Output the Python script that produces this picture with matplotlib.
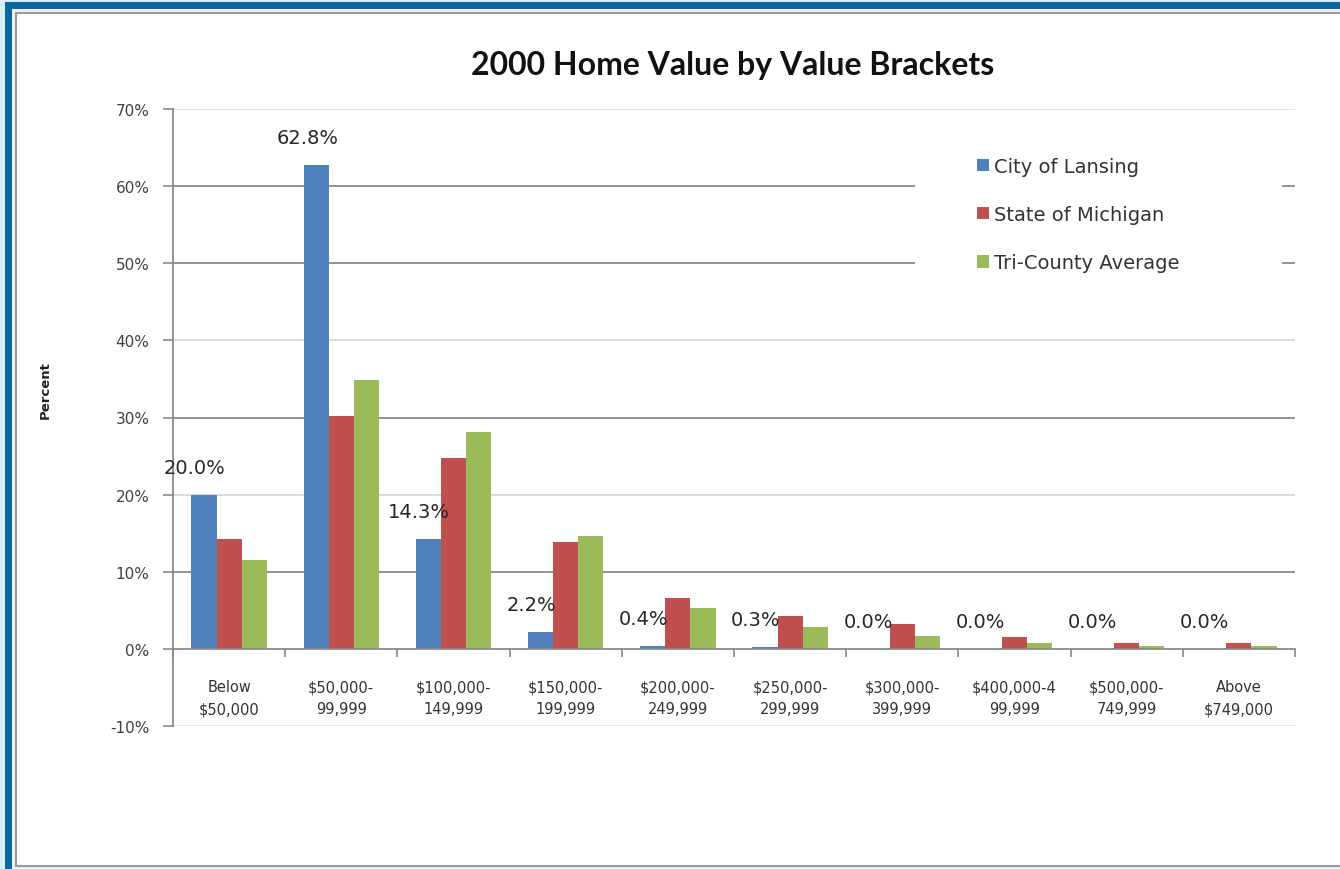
import matplotlib
matplotlib.use("Agg")
import matplotlib.pyplot as plt
from matplotlib.patches import Rectangle
import numpy as np

categories = ["Below\n\\$50,000", "\\$50,000-\n99,999", "\\$100,000-\n149,999",
              "\\$150,000-\n199,999", "\\$200,000-\n249,999", "\\$250,000-\n299,999",
              "\\$300,000-\n399,999", "\\$400,000-4\n99,999", "\\$500,000-\n749,999",
              "Above\n\\$749,000"]
series_names = ["City of Lansing", "State of Michigan", "Tri-County Average"]
lansing = [20.0, 62.8, 14.3, 2.2, 0.4, 0.3, 0.0, 0.0, 0.0, 0.0]
michigan = [14.3, 30.2, 24.7, 13.9, 6.6, 4.2, 3.2, 1.5, 0.8, 0.7]
tricounty = [11.5, 34.8, 28.1, 14.7, 5.3, 2.9, 1.7, 0.7, 0.4, 0.4]
y_ticks = [-10, 0, 10, 20, 30, 40, 50, 60, 70]
title = "2000 Home Value by Value Brackets"
y_label = "Percent"

colors = ["#4F81BD", "#C0504D", "#9BBB59"]

W, H = 1340, 870
fig = plt.figure(figsize=(W / 100, H / 100), dpi=100)
fig.patch.set_facecolor("#d6eff9")

def fr(x0, y0, x1, y1):
    return (x0 / W, 1 - y1 / H), (x1 - x0) / W, (y1 - y0) / H

xy, w, h = fr(5, 3, W + 5, H + 5)
fig.add_artist(Rectangle(xy, w, h, transform=fig.transFigure, facecolor="#0c66a0", edgecolor="none", zorder=-10))
xy, w, h = fr(12, 10, W + 5, H + 5)
fig.add_artist(Rectangle(xy, w, h, transform=fig.transFigure, facecolor="#eef2f4", edgecolor="none", zorder=-9))
xy, w, h = fr(16, 14, W + 10, H - 3)
fig.add_artist(Rectangle(xy, w, h, transform=fig.transFigure, facecolor="white", edgecolor="#9a9a9a", linewidth=1.5, zorder=-8))

ax = fig.add_axes([173 / W, 1 - 727 / H, 1122 / W, 617 / H])
ax.set_facecolor("none")

n = len(categories)
x = np.arange(n) + 0.5
bw = 0.224
data = [lansing, michigan, tricounty]
for k, (vals, name, c) in enumerate(zip(data, series_names, colors)):
    ax.bar(x + (k - 1) * bw, vals, width=bw, color=c, label=name, zorder=3, linewidth=0)

for xi, v in zip(x - bw, lansing):
    ax.annotate(f"{v:.1f}%", (xi, v), xytext=(-9, 27), textcoords="offset pixels",
                ha="center", va="center", fontsize=14, color="#262626", zorder=5)

ax.set_xlim(0, n)
ax.set_ylim(-10, 70)

grid_colors = {10: "#8a8a8a", 20: "#d8d8d8", 30: "#8a8a8a", 40: "#d8d8d8",
               50: "#8a8a8a", 60: "#8a8a8a", 70: "#dcdcdc"}
for v, gc in grid_colors.items():
    ax.axhline(v, color=gc, linewidth=1.3, zorder=0.5)
ax.axhline(-10, color="#e0e0e0", linewidth=1.3, zorder=0.5)

# white legend background
ax.add_patch(Rectangle(((915 - 173) / 1122, (727 - 300) / 617), (1282 - 915) / 1122, 160 / 617,
                       transform=ax.transAxes, facecolor="white", edgecolor="none", zorder=1))

for s in ["top", "right"]:
    ax.spines[s].set_visible(False)
ax.spines["left"].set_color("#8a8a8a")
ax.spines["left"].set_linewidth(1.3)
ax.spines["bottom"].set_position(("data", 0))
ax.spines["bottom"].set_color("#8a8a8a")
ax.spines["bottom"].set_linewidth(1.3)
ax.spines["bottom"].set_zorder(4)

ax.set_yticks(y_ticks)
ax.set_yticklabels([f"{v}%" for v in y_ticks])
ax.tick_params(axis="y", direction="out", length=7, width=1.2, color="#8a8a8a",
               labelsize=11, labelcolor="#404040", pad=10)

ax.set_xticks(x)
ax.set_xticklabels(categories, linespacing=1.55)
ax.set_xticks(np.arange(n + 1), minor=True)
ax.tick_params(axis="x", which="major", length=0, labelsize=10.5, labelcolor="#333333", pad=22)
ax.tick_params(axis="x", which="minor", length=6, width=1.2, color="#8a8a8a", direction="out")

leg = ax.legend(loc="upper left", bbox_to_anchor=((977 - 173) / 1122, (727 - 158) / 617),
                frameon=False, fontsize=14, handlelength=0.6, handleheight=0.6,
                handletextpad=0.3, labelspacing=1.5, borderaxespad=0, borderpad=0)
for t in leg.get_texts():
    t.set_color("#333333")
leg.set_zorder(6)

fig.text(733 / W, 1 - 66 / H, title, ha="center", va="center", fontsize=23,
         fontweight="bold", family="Lato", color="#111111")
fig.text(45 / W, 1 - 390 / H, y_label, ha="center", va="center", rotation=90,
         fontsize=9.5, fontweight="bold", color="#222222")

fig.savefig("out.png", dpi=100, facecolor=fig.get_facecolor())
